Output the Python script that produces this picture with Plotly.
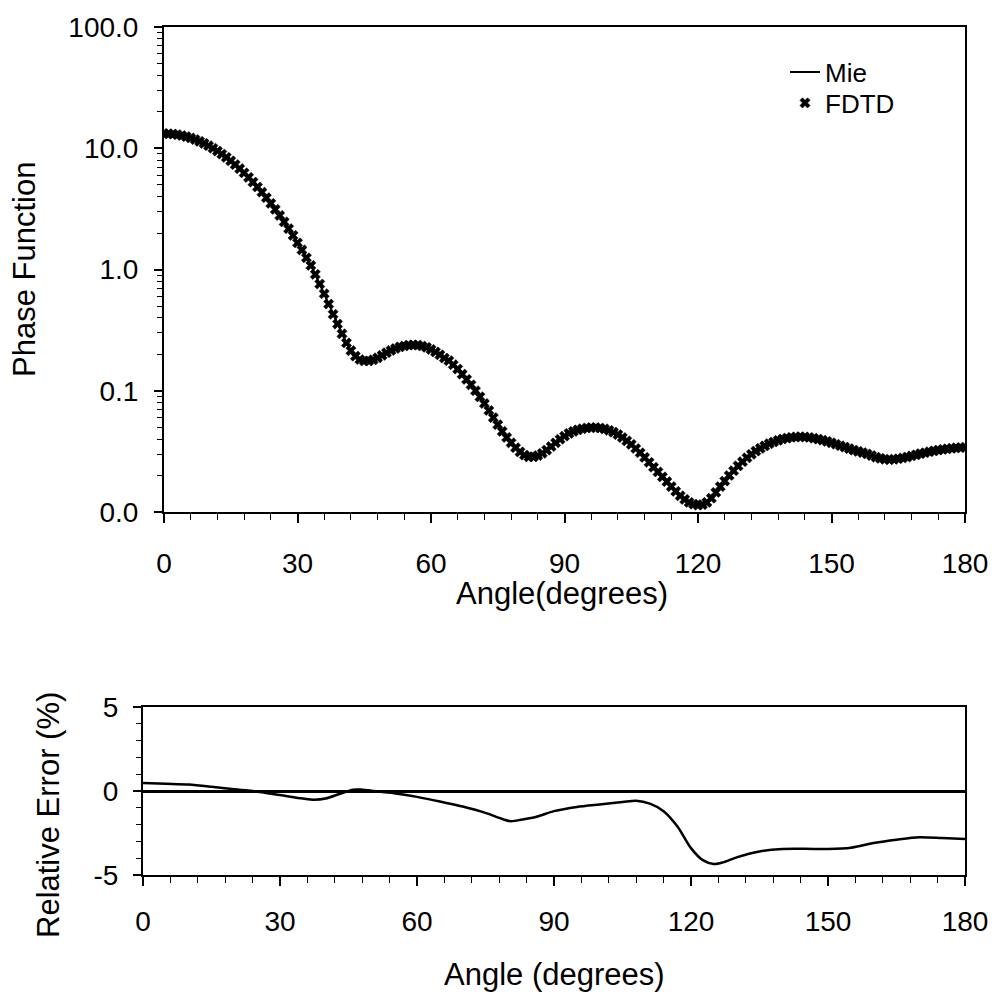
import plotly.graph_objects as go

# ---------------- data ----------------
angles = list(range(0, 181))  # degrees, 1-degree sampling

phase_function = [
    13.21, 13.18, 13.09, 12.94, 12.74, 12.47, 12.16, 11.80, 11.40, 10.96,   # 0-9
    10.50, 10.00, 9.48, 8.95, 8.41, 7.87, 7.33, 6.79, 6.27, 5.75,            # 10-19
    5.26, 4.79, 4.34, 3.91, 3.51, 3.13, 2.79, 2.47, 2.17, 1.91,              # 20-29
    1.66, 1.45, 1.25, 1.08, 0.912, 0.759, 0.631, 0.519, 0.427, 0.355,        # 30-39
    0.295, 0.248, 0.214, 0.193, 0.181, 0.176, 0.176, 0.180, 0.187, 0.196,    # 40-49
    0.206, 0.215, 0.223, 0.230, 0.234, 0.238, 0.239, 0.238, 0.234, 0.228,    # 50-59
    0.219, 0.209, 0.198, 0.186, 0.177, 0.164, 0.151, 0.137, 0.124, 0.112,    # 60-69
    0.100, 0.0891, 0.0785, 0.0687, 0.0600, 0.0525, 0.0462, 0.0412, 0.0372, 0.0339,  # 70-79
    0.0313, 0.0295, 0.0285, 0.0285, 0.0292, 0.0305, 0.0324, 0.0347, 0.0372, 0.0398,  # 80-89
    0.0422, 0.0445, 0.0462, 0.0476, 0.0486, 0.0493, 0.0497, 0.0497, 0.0493, 0.0485,  # 90-99
    0.0472, 0.0455, 0.0435, 0.0411, 0.0386, 0.0361, 0.0334, 0.0308, 0.0282, 0.0257,  # 100-109
    0.0234, 0.0214, 0.0195, 0.0178, 0.0162, 0.0148, 0.0136, 0.0127, 0.0120, 0.0116,  # 110-119
    0.0114, 0.0115, 0.0120, 0.0130, 0.0145, 0.0162, 0.0180, 0.0200, 0.0219, 0.0240,  # 120-129
    0.0260, 0.0280, 0.0299, 0.0318, 0.0335, 0.0351, 0.0366, 0.0378, 0.0390, 0.0400,  # 130-139
    0.0407, 0.0413, 0.0416, 0.0417, 0.0416, 0.0412, 0.0406, 0.0399, 0.0391, 0.0382,  # 140-149
    0.0372, 0.0362, 0.0352, 0.0343, 0.0333, 0.0324, 0.0316, 0.0309, 0.0301, 0.0292,  # 150-159
    0.0283, 0.0277, 0.0272, 0.0270, 0.0272, 0.0275, 0.0279, 0.0284, 0.0290, 0.0296,  # 160-169
    0.0303, 0.0308, 0.0314, 0.0319, 0.0324, 0.0328, 0.0332, 0.0335, 0.0338, 0.0340,  # 170-179
    0.0342,                                                                    # 180
]

err_angles = [0, 5, 10, 15, 20, 24, 30, 35, 37.5, 40, 43, 46, 48, 50, 55, 60, 65, 70,
              75, 78, 80.5, 83, 86, 90, 95, 100, 105, 108, 111, 114, 117, 120, 122.5,
              125, 127, 130, 135, 140, 145, 150, 155, 160, 165, 170, 175, 180]
rel_error = [0.48, 0.43, 0.38, 0.25, 0.10, 0.0, -0.24, -0.45, -0.52, -0.45, -0.18, 0.08,
             0.08, 0.02, -0.13, -0.35, -0.62, -0.92, -1.30, -1.60, -1.80, -1.70, -1.55,
             -1.20, -0.95, -0.80, -0.66, -0.58, -0.75, -1.20, -2.10, -3.40, -4.10, -4.35,
             -4.25, -3.95, -3.60, -3.45, -3.44, -3.45, -3.38, -3.10, -2.90, -2.75, -2.80,
             -2.86]

log_tickvals = [0.01, 0.1, 1, 10, 100]
log_ticktext = ["0.0", "0.1", "1.0", "10.0", "100.0"]
log_minor = [m * d for d in (0.01, 0.1, 1, 10) for m in range(2, 10)]

FONT = "Liberation Sans, Arial, Helvetica, sans-serif"
W = H = 997
TICK_SIZE = 28
TITLE_SIZE = 31

def px(x):
    return x / W

def py(y):
    return 1 - y / H

fig = go.Figure()

fig.add_trace(go.Scatter(
    x=angles, y=phase_function, mode="lines", name="Mie", legend="legend",
    line=dict(color="black", width=2), xaxis="x", yaxis="y"))
fig.add_trace(go.Scatter(
    x=angles, y=phase_function, mode="markers", name="FDTD", legend="legend2",
    marker=dict(symbol="x", size=9, color="black",
                line=dict(width=0.5, color="black")), xaxis="x", yaxis="y"))
fig.add_trace(go.Scatter(
    x=err_angles, y=rel_error, mode="lines", showlegend=False,
    line=dict(color="black", width=2.5, shape="spline", smoothing=0.8),
    xaxis="x2", yaxis="y2"))

axis_common = dict(showline=True, linecolor="black", linewidth=2, mirror=True,
                   ticks="outside", tickcolor="black", tickwidth=1.5,
                   showgrid=False, zeroline=False, automargin=False,
                   tickfont=dict(family=FONT, size=TICK_SIZE, color="black"))

legend_common = dict(xanchor="left", yanchor="middle",
                     bgcolor="rgba(0,0,0,0)", borderwidth=0,
                     font=dict(family=FONT, size=26, color="black"),
                     itemwidth=30)

fig.update_layout(
    width=W, height=H,
    margin=dict(l=0, r=0, t=0, b=0),
    paper_bgcolor="white", plot_bgcolor="white",
    showlegend=True,
    legend=dict(x=px(785), y=py(72), **legend_common),
    legend2=dict(x=px(785), y=py(103), **legend_common),
    xaxis=dict(domain=[px(164), px(965)], anchor="y", range=[0, 180],
               tickmode="linear", tick0=0, dtick=30, ticklen=9,
               ticklabelstandoff=16,
               minor=dict(ticks="outside", dtick=6, tick0=0, ticklen=6,
                          tickcolor="black", tickwidth=1.2),
               **axis_common),
    yaxis=dict(domain=[py(512), py(27)], anchor="x", type="log", range=[-2, 2],
               tickmode="array", tickvals=log_tickvals, ticktext=log_ticktext,
               ticklen=8, ticklabelstandoff=10,
               minor=dict(ticks="outside", tickmode="array", tickvals=log_minor,
                          ticklen=5, tickcolor="black", tickwidth=1),
               **axis_common),
    xaxis2=dict(domain=[px(143), px(965)], anchor="y2", range=[0, 180],
                tickmode="linear", tick0=0, dtick=30, ticklen=9,
                ticklabelstandoff=11,
                minor=dict(ticks="outside", dtick=6, tick0=0, ticklen=6,
                           tickcolor="black", tickwidth=1.2),
                **axis_common),
    yaxis2=dict(domain=[py(875), py(707)], anchor="x2", range=[-5, 5],
                tickmode="array", tickvals=[-5, 0, 5], ticktext=["-5", "0", "5"],
                ticklen=8, ticklabelstandoff=9,
                minor=dict(ticks="outside", dtick=1, tick0=0, ticklen=5,
                           tickcolor="black", tickwidth=1),
                **{**axis_common, "zeroline": True},
                zerolinecolor="black", zerolinewidth=2.5),
    annotations=[
        dict(text="Angle(degrees)", x=px(562), y=py(593), xref="paper", yref="paper",
             showarrow=False, xanchor="center", yanchor="middle",
             font=dict(family=FONT, size=TITLE_SIZE, color="black")),
        dict(text="Angle (degrees)", x=px(554), y=py(974), xref="paper", yref="paper",
             showarrow=False, xanchor="center", yanchor="middle",
             font=dict(family=FONT, size=TITLE_SIZE, color="black")),
        dict(text="Phase Function", x=px(24), y=py(270), xref="paper", yref="paper",
             showarrow=False, xanchor="center", yanchor="middle", textangle=-90,
             font=dict(family=FONT, size=TITLE_SIZE, color="black")),
        dict(text="Relative Error (%)", x=px(48), y=py(815), xref="paper", yref="paper",
             showarrow=False, xanchor="center", yanchor="middle", textangle=-90,
             font=dict(family=FONT, size=TITLE_SIZE, color="black")),
    ],
)

fig.write_html("out.html", config={"displayModeBar": False},
               post_script="document.body.style.margin='0';")
